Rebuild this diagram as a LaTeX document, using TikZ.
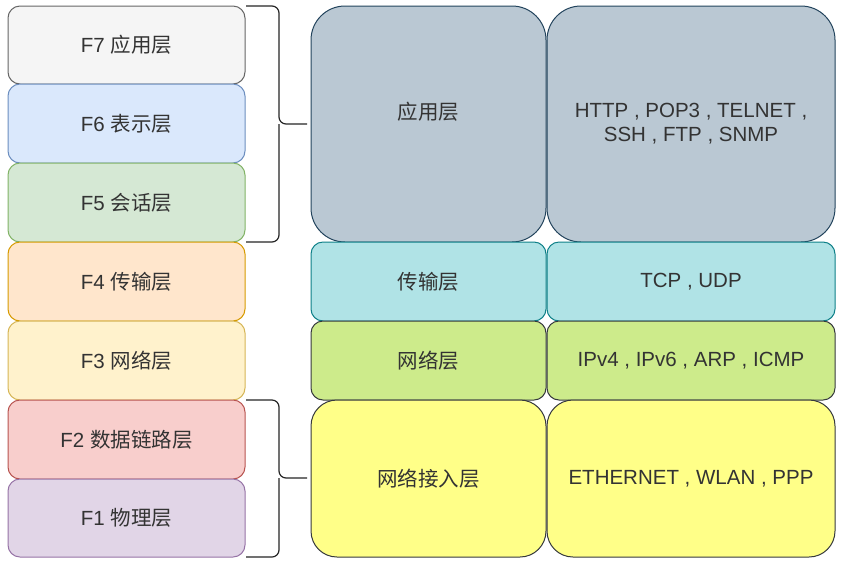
\documentclass[tikz,border=0pt]{standalone}
\usepackage{fontspec}
\setmainfont{Liberation Sans}
\newfontfamily\cjk{Noto Sans CJK SC}
\definecolor{txt}{HTML}{333333}
\definecolor{f7f}{HTML}{F5F5F5}\definecolor{f7s}{HTML}{666666}
\definecolor{f6f}{HTML}{DAE8FC}\definecolor{f6s}{HTML}{6C8EBF}
\definecolor{f5f}{HTML}{D5E8D4}\definecolor{f5s}{HTML}{82B366}
\definecolor{f4f}{HTML}{FFE6CC}\definecolor{f4s}{HTML}{D79B00}
\definecolor{f3f}{HTML}{FFF2CC}\definecolor{f3s}{HTML}{D6B656}
\definecolor{f2f}{HTML}{F8CECC}\definecolor{f2s}{HTML}{B85450}
\definecolor{f1f}{HTML}{E1D5E7}\definecolor{f1s}{HTML}{9673A6}
\definecolor{apf}{HTML}{BAC8D3}\definecolor{aps}{HTML}{23445D}
\definecolor{trf}{HTML}{B0E3E6}\definecolor{trs}{HTML}{0E8088}
\definecolor{nwf}{HTML}{CDEB8B}\definecolor{nws}{HTML}{36393D}
\definecolor{acf}{HTML}{FFFF88}\definecolor{acs}{HTML}{36393D}
\begin{document}
\begin{tikzpicture}[x=1pt,y=-1pt,
  layer/.style={draw, line width=1pt, rounded corners=12pt, text=txt, font=\fontsize{20.5}{24}\selectfont, align=center},
  bigbox/.style={layer, rounded corners=34pt},
  brace/.style={draw=black!85, line width=1.2pt, rounded corners=7pt}]
\useasboundingbox[fill=white] (0,0) rectangle (848,566);
% left column
\path[layer, fill=f7f, draw=f7s] (8,6) rectangle (245,84) node[midway] (F7) {F7 {\cjk 应用层}};
\path[layer, fill=f6f, draw=f6s] (8,84) rectangle (245,163) node[midway] (F6) {F6 {\cjk 表示层}};
\path[layer, fill=f5f, draw=f5s] (8,163) rectangle (245,242) node[midway] (F5) {F5 {\cjk 会话层}};
\path[layer, fill=f4f, draw=f4s] (8,242) rectangle (245,321) node[midway] (F4) {F4 {\cjk 传输层}};
\path[layer, fill=f3f, draw=f3s] (8,321) rectangle (245,400) node[midway] (F3) {F3 {\cjk 网络层}};
\path[layer, fill=f2f, draw=f2s] (8,400) rectangle (245,479) node[midway] (F2) {F2 {\cjk 数据链路层}};
\path[layer, fill=f1f, draw=f1s] (8,479) rectangle (245,557) node[midway] (F1) {F1 {\cjk 物理层}};
% braces
\coordinate (b1top) at (246,6);
\coordinate (b1bot) at (246,242);
\coordinate (b1tip) at (307,124);
\draw[brace] (b1top) -- (279,6) -- (279,124) -- (b1tip);
\draw[brace] (b1bot) -- (279,242) -- (279,124);
\coordinate (b2top) at (246,400);
\coordinate (b2bot) at (246,557);
\coordinate (b2tip) at (307,478);
\draw[brace] (b2top) -- (279,400) -- (279,478) -- (b2tip);
\draw[brace] (b2bot) -- (279,557) -- (279,478);
% TCP/IP layers
\path[bigbox, fill=apf, draw=aps] (311,6) rectangle (546,242) node[midway, yshift=12pt] (app) {{\cjk 应用层}};
\path[bigbox, fill=apf, draw=aps] (547,6) rectangle (835,242) node[midway] (appp) {HTTP , POP3 , TELNET ,\\SSH , FTP , SNMP};
\path[layer, fill=trf, draw=trs] (311,242) rectangle (546,321) node[midway] (tr) {{\cjk 传输层}};
\path[layer, fill=trf, draw=trs] (547,242) rectangle (835,321) node[midway] (trp) {TCP , UDP};
\path[layer, fill=nwf, draw=nws] (311,321) rectangle (546,400) node[midway] (nw) {{\cjk 网络层}};
\path[layer, fill=nwf, draw=nws] (547,321) rectangle (835,400) node[midway] (nwp) {IPv4 , IPv6 , ARP , ICMP};
\path[bigbox, rounded corners=26pt, fill=acf, draw=acs] (311,400) rectangle (546,557) node[midway] (ac) {{\cjk 网络接入层}};
\path[bigbox, rounded corners=26pt, fill=acf, draw=acs] (547,400) rectangle (835,557) node[midway] (acp) {ETHERNET , WLAN , PPP};
\end{tikzpicture}
\end{document}
